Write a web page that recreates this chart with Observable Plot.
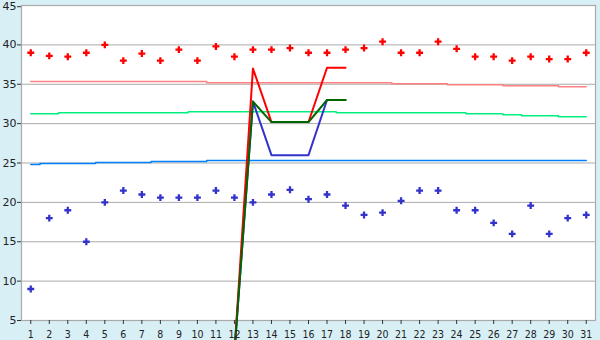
<!DOCTYPE html>
<html>
<head>
<meta charset="utf-8">
<script src="https://cdn.jsdelivr.net/npm/d3@7"></script>
<script src="https://cdn.jsdelivr.net/npm/@observablehq/plot@0.6"></script>
<style>
  html, body { margin: 0; padding: 0; background: #d9eff6; overflow: hidden; }
  #chart svg { display: block; }
</style>
</head>
<body>
<div id="chart"></div>
<script>
const days = [1,2,3,4,5,6,7,8,9,10,11,12,13,14,15,16,17,18,19,20,21,22,23,24,25,26,27,28,29,30,31];
const yTicks = [5,10,15,20,25,30,35,40];
const yTopTick = [45];
const yGrid = [10,15,20,25,30,35,40];

const highPoints = [39.0,38.6,38.5,39.0,40.0,38.0,38.9,38.0,39.4,38.0,39.8,38.5,39.4,39.4,39.6,39.0,39.0,39.4,39.6,40.4,39.0,39.0,40.4,39.5,38.5,38.5,38.0,38.5,38.2,38.2,39.0];
const lowPoints = [9.0,18.0,19.0,15.0,20.0,21.5,21.0,20.6,20.6,20.6,21.5,20.6,20.0,21.0,21.6,20.4,21.0,19.6,18.4,18.7,20.2,21.5,21.5,19.0,19.0,17.4,16.0,19.6,16.0,18.0,18.4];

const pinkStep = [35.35,35.35,35.35,35.35,35.35,35.35,35.35,35.35,35.35,35.35,35.18,35.18,35.18,35.18,35.18,35.18,35.18,35.18,35.18,35.18,35.06,35.06,35.06,34.93,34.93,34.93,34.8,34.8,34.8,34.67,34.67];
const greenStep = [31.25,31.25,31.37,31.37,31.37,31.37,31.37,31.37,31.37,31.5,31.5,31.5,31.5,31.5,31.5,31.5,31.5,31.37,31.37,31.37,31.37,31.37,31.37,31.37,31.25,31.25,31.12,31.0,31.0,30.87,30.87];
const blueStep = [24.8,24.94,24.94,24.94,25.06,25.06,25.06,25.19,25.19,25.19,25.32,25.32,25.32,25.32,25.32,25.32,25.32,25.32,25.32,25.32,25.32,25.32,25.32,25.32,25.32,25.32,25.32,25.32,25.32,25.32,25.32];

const spikeDays = [12,13,14,15,16,17,18];
const spikeRed = [1.0,37.0,30.2,30.2,30.2,37.1,37.1];
const spikeBlue = [1.0,32.8,26.0,26.0,26.0,33.0,33.0];
const spikeGreen = [1.0,32.8,30.2,30.2,30.2,33.0,33.0];

const tbl = (xs, ys) => xs.map((d, i) => ({day: d, v: ys[i]}));

const chart = Plot.plot({
  width: 600,
  height: 340,
  marginLeft: 21,
  marginRight: 5,
  marginTop: 5,
  marginBottom: 20,
  style: {background: "#d9eff6", fontFamily: "DejaVu Sans", fontSize: "11px", color: "#222", overflow: "hidden"},
  x: {type: "linear", domain: [0.5, 31.5]},
  y: {domain: [5, 45]},
  marks: [
    Plot.frame({fill: "white", stroke: null}),
    Plot.ruleY(yGrid, {stroke: "#aaaaaa", strokeWidth: 1}),
    Plot.frame({stroke: "#aaaaaa", strokeWidth: 1.2}),
    Plot.lineY(tbl(days, pinkStep), {x: "day", y: "v", curve: "step", stroke: "#ff8080", strokeWidth: 1.5}),
    Plot.lineY(tbl(days, greenStep), {x: "day", y: "v", curve: "step", stroke: "#00f080", strokeWidth: 1.5}),
    Plot.lineY(tbl(days, blueStep), {x: "day", y: "v", curve: "step", stroke: "#0080ff", strokeWidth: 1.5}),
    Plot.dot(tbl(days, highPoints), {x: "day", y: "v", symbol: "cross", r: 2.9, fill: "#ff0000", stroke: null}),
    Plot.dot(tbl(days, lowPoints), {x: "day", y: "v", symbol: "cross", r: 2.9, fill: "#3333cc", stroke: null}),
    Plot.lineY(tbl(spikeDays, spikeBlue), {x: "day", y: "v", stroke: "#3333cc", strokeWidth: 2}),
    Plot.lineY(tbl(spikeDays, spikeRed), {x: "day", y: "v", stroke: "#ff0000", strokeWidth: 2}),
    Plot.lineY(tbl(spikeDays, spikeGreen), {x: "day", y: "v", stroke: "#006600", strokeWidth: 2}),
    Plot.axisX({ticks: days, tickFormat: d => String(d), tickSize: 4, tickPadding: 6.5, stroke: "#333", fill: "#222", label: null,
      fontFamily: "DejaVu Sans Condensed, Liberation Sans, sans-serif", fontSize: 10.5}),
    Plot.axisY({ticks: yTicks, tickSize: 4, tickPadding: 1, stroke: "#333", fill: "#222", label: null}),
    Plot.axisY({ticks: yTopTick, tickSize: 4, tickPadding: 1, stroke: "#333", fill: "#222", label: null, dy: 1.2})
  ]
});
document.getElementById("chart").appendChild(chart);
</script>
</body>
</html>
